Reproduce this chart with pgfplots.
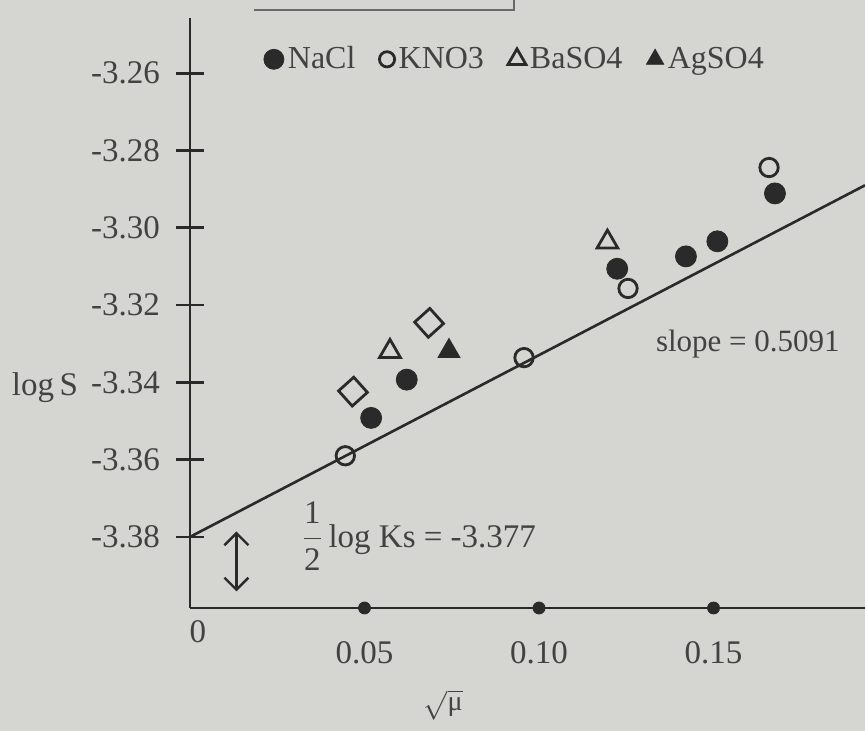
\documentclass[border=0pt]{standalone}
\usepackage{pgfplots}
\pgfplotsset{compat=1.18}
\usepackage{fontspec}
\setmainfont{Liberation Serif}
\usetikzlibrary{arrows.meta}
\definecolor{paper}{RGB}{213,213,209}
\definecolor{ink}{RGB}{42,42,42}
\definecolor{txt}{RGB}{66,66,66}
\pgfplotsset{
  legmark/.style={legend image code/.code={\draw[##1, mark size=#1] plot coordinates {(0cm,0cm)};}},
}
\begin{document}
\begin{tikzpicture}
\path[use as bounding box] (-95pt,-61.5pt) rectangle (337.5pt,304pt);
\fill[paper] (-95pt,-61.5pt) rectangle (337.5pt,304pt);
\begin{axis}[
  at={(0pt,0pt)}, anchor=south west,
  width=337.5pt, height=295pt, scale only axis,
  xmin=0, xmax=0.1934, ymin=-3.3984, ymax=-3.2457,
  axis x line*=bottom, axis y line*=left,
  axis line style={ink, line width=1.3pt},
  xtick={0.05,0.10,0.15}, xticklabels={0.05,0.10,0.15},
  ytick={-3.38,-3.36,-3.34,-3.32,-3.30,-3.28,-3.26},
  yticklabels={-3.38,-3.36,-3.34,-3.32,-3.30,-3.28,-3.26},
  x tick style={draw=none},
  y tick style={ink, line width=1.3pt},
  tick align=center, major tick length=14pt,
  ticklabel style={font=\fontsize{16.5}{19}\selectfont, text=txt},
  xticklabel style={yshift=-6pt},
  yticklabel style={xshift=-4.5pt},
  xlabel={$\sqrt{\mbox{μ}}$},
  xlabel style={at={(axis description cs:0.375,0)}, anchor=center, yshift=-48.5pt, font=\fontsize{14}{17}\selectfont, text=txt},
  ylabel={log\,S},
  ylabel style={rotate=-90, at={(axis description cs:0,0.373)}, anchor=east, xshift=-52.5pt, font=\fontsize{16.5}{19}\selectfont, text=txt},
  legend style={at={(axis description cs:0.1,0.93)}, anchor=west, draw=none, fill=none, font=\fontsize{16}{19}\selectfont, text=txt, legend columns=4, /tikz/every even column/.append style={column sep=10pt}},
  legend cell align=left,
  clip=false,
]
\addplot[ink, line width=1.3pt, forget plot] coordinates {(0,-3.3800) (0.1934,-3.2890)};
\addplot[only marks, mark=*, mark size=5.25pt, ink, legmark=5pt]
  coordinates {(0.0519,-3.3492) (0.0621,-3.3393) (0.1224,-3.3106) (0.1421,-3.3074) (0.1511,-3.3035) (0.1676,-3.2911)};
\addlegendentry{NaCl}
\addplot[only marks, mark=o, mark size=4.6pt, ink, mark options={line width=1.4pt}, legmark=3.8pt]
  coordinates {(0.0445,-3.3590) (0.0957,-3.3336) (0.1255,-3.3157) (0.1659,-3.2844)};
\addlegendentry{KNO3}
\addplot[only marks, mark=triangle, mark size=6pt, ink, mark options={line width=1.4pt}, legmark=5.2pt]
  coordinates {(0.0573,-3.3320) (0.1196,-3.3037)};
\addlegendentry{BaSO4}
\addplot[only marks, mark=triangle*, mark size=6.3pt, ink, legmark=5pt]
  coordinates {(0.0742,-3.3319)};
\addlegendentry{AgSO4}
\addplot[only marks, mark=square, mark size=5.1pt, ink, mark options={line width=1.4pt, rotate=42}, forget plot]
  coordinates {(0.0467,-3.3424) (0.0685,-3.3246)};
\addplot[only marks, mark=*, mark size=3pt, ink, forget plot] coordinates {(0.05,-3.3984) (0.10,-3.3984) (0.15,-3.3984)};
\node[font=\fontsize{16.5}{19}\selectfont, text=txt, xshift=4pt, yshift=-12pt] at (axis cs:0,-3.3984) {0};
\node[anchor=west, font=\fontsize{15.5}{18}\selectfont, text=txt] at (axis cs:0.1315,-3.3302) {slope = 0.5091};
\node[anchor=west, font=\fontsize{16.5}{19}\selectfont, text=txt] at (axis cs:0.0300,-3.3799) {$\displaystyle\frac{\mbox{1}}{\mbox{2}}$\,log Ks = -3.377};
\draw[ink, line width=1.2pt, {Straight Barb[length=6pt]}-{Straight Barb[length=6pt]}] (axis cs:0.0133,-3.3786) -- (axis cs:0.0133,-3.3941);
\end{axis}
\draw[ink!70, line width=1pt] (32pt,299pt) -- (162pt,299pt) -- (162pt,304pt);
\end{tikzpicture}
\end{document}
